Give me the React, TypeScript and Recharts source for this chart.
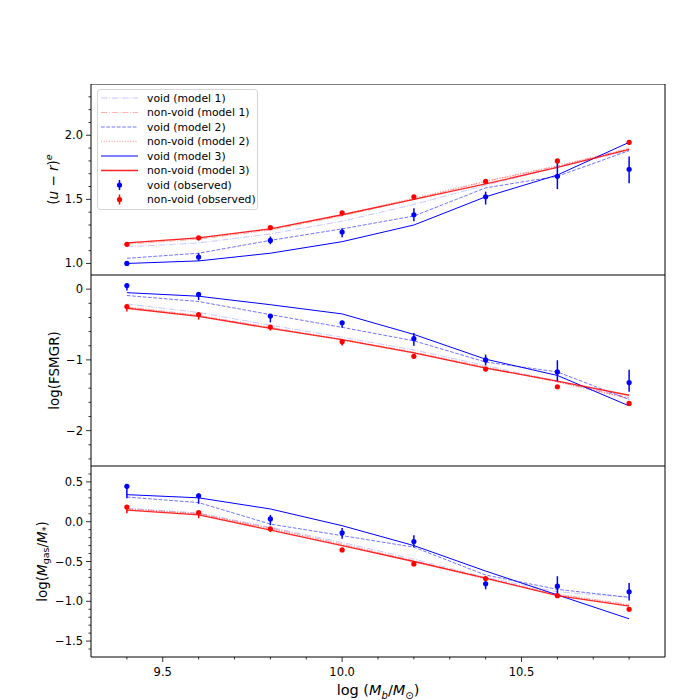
import React from "react";
import {
  ComposedChart,
  ErrorBar,
  Line,
  ReferenceArea,
  Scatter,
  XAxis,
  YAxis,
} from "recharts";

// stellar+gas mass bins, log(Mb/Msun)
const massBins = [9.4, 9.6, 9.8, 10.0, 10.2, 10.4, 10.6, 10.8];

// (u - r)^e colour
const urVoidM1 = [1.13, 1.16, 1.23, 1.33, 1.46, 1.61, 1.75, 1.88];
const urNonVoidM1 = [1.15, 1.19, 1.26, 1.37, 1.5, 1.64, 1.76, 1.9];
const urVoidM2 = [1.04, 1.08, 1.18, 1.27, 1.37, 1.59, 1.68, 1.88];
const urNonVoidM2 = [1.16, 1.2, 1.27, 1.38, 1.51, 1.64, 1.76, 1.89];
const urVoidM3 = [1.0, 1.02, 1.08, 1.17, 1.3, 1.52, 1.69, 1.945];
const urNonVoidM3 = [1.16, 1.2, 1.27, 1.38, 1.5, 1.62, 1.75, 1.89];
const urVoidObs = [1.0, 1.05, 1.18, 1.245, 1.38, 1.52, 1.68, 1.735];
const urNonVoidObs = [1.15, 1.2, 1.28, 1.395, 1.52, 1.64, 1.8, 1.945];
const urVoidErr = [[0.02, 0.01], [0.03, 0.03], [0.03, 0.03], [0.04, 0.03], [0.05, 0.05], [0.06, 0.04], [0.1, 0.13], [0.11, 0.1]];
const urNonVoidErr = [[0.02, 0.01], [0.02, 0.01], [0.02, 0.01], [0.02, 0.01], [0.02, 0.01], [0.02, 0.01], [0.02, 0.01], [0.02, 0.01]];

// log(FSMGR)
const fsVoidM1 = [-0.21, -0.33, -0.51, -0.68, -0.86, -1.08, -1.3, -1.53];
const fsNonVoidM1 = [-0.25, -0.37, -0.54, -0.71, -0.89, -1.1, -1.31, -1.54];
const fsVoidM2 = [-0.09, -0.175, -0.36, -0.54, -0.73, -1.03, -1.17, -1.56];
const fsNonVoidM2 = [-0.26, -0.38, -0.55, -0.72, -0.9, -1.11, -1.31, -1.55];
const fsVoidM3 = [-0.05, -0.1, -0.22, -0.35, -0.64, -0.99, -1.22, -1.65];
const fsNonVoidM3 = [-0.27, -0.385, -0.555, -0.715, -0.9, -1.115, -1.3, -1.5];
const fsVoidObs = [0.05, -0.075, -0.38, -0.475, -0.7, -1.0, -1.17, -1.32];
const fsNonVoidObs = [-0.245, -0.36, -0.535, -0.745, -0.95, -1.13, -1.38, -1.615];
const fsVoidErr = [[0.07, 0.02], [0.08, 0.02], [0.09, 0.02], [0.07, 0.03], [0.1, 0.08], [0.075, 0.075], [0.13, 0.165], [0.13, 0.18]];
const fsNonVoidErr = [[0.07, 0.02], [0.07, 0.02], [0.05, 0.02], [0.05, 0.02], [0.03, 0.02], [0.03, 0.02], [0.03, 0.02], [0.03, 0.02]];

// log(Mgas/M*)
const gasVoidM1 = [0.17, 0.11, -0.07, -0.26, -0.47, -0.7, -0.88, -0.95];
const gasNonVoidM1 = [0.16, 0.1, -0.08, -0.28, -0.49, -0.71, -0.91, -1.04];
const gasVoidM2 = [0.31, 0.24, -0.03, -0.175, -0.32, -0.67, -0.85, -0.95];
const gasNonVoidM2 = [0.16, 0.1, -0.09, -0.29, -0.5, -0.72, -0.92, -1.05];
const gasVoidM3 = [0.34, 0.3, 0.16, -0.05, -0.3, -0.62, -0.92, -1.22];
const gasNonVoidM3 = [0.145, 0.085, -0.105, -0.3, -0.5, -0.71, -0.93, -1.06];
const gasVoidObs = [0.445, 0.325, 0.035, -0.14, -0.25, -0.78, -0.81, -0.88];
const gasNonVoidObs = [0.185, 0.115, -0.09, -0.355, -0.53, -0.715, -0.93, -1.1];
const gasVoidErr = [[0.15, 0.02], [0.1, 0.03], [0.08, 0.05], [0.075, 0.06], [0.07, 0.08], [0.07, 0.07], [0.1, 0.125], [0.11, 0.11]];
const gasNonVoidErr = [[0.08, 0.02], [0.07, 0.02], [0.04, 0.02], [0.02, 0.02], [0.02, 0.02], [0.02, 0.02], [0.02, 0.02], [0.02, 0.02]];

// tick labels
const xTicks = [9.4, 9.5, 9.6, 9.7, 9.8, 9.9, 10.0, 10.1, 10.2, 10.3, 10.4, 10.5, 10.6, 10.7, 10.8];
const xMajor = [9.5, 10.0, 10.5];
const urTicks = [1.0, 1.1, 1.2, 1.3, 1.4, 1.5, 1.6, 1.7, 1.8, 1.9, 2.0, 2.1, 2.2, 2.3];
const urMajor = [1.0, 1.5, 2.0];
const fsTicks = [0, -0.2, -0.4, -0.6, -0.8, -1.0, -1.2, -1.4, -1.6, -1.8, -2.0, -2.2, -2.4];
const fsMajor = [0, -1, -2];
const gasTicks = [0.6, 0.5, 0.4, 0.3, 0.2, 0.1, 0, -0.1, -0.2, -0.3, -0.4, -0.5, -0.6, -0.7, -0.8, -0.9, -1.0, -1.1, -1.2, -1.3, -1.4, -1.5, -1.6];
const gasMajor = [0.5, 0, -0.5, -1.0, -1.5];

const FONT = "'DejaVu Sans', sans-serif";
const PLOT_LEFT = 91;
const PLOT_RIGHT = 665;
const PANEL_H = 191;
const X_DOMAIN = [9.3, 10.9];
const BLUE = "#0000ff";
const RED = "#ff0000";

const models = [
  { key: "vM1", name: "void (model 1)", color: BLUE, dash: "6.4 1.6 1 1.6", opacity: 0.22, width: 1 },
  { key: "nvM1", name: "non-void (model 1)", color: RED, dash: "6.4 1.6 1 1.6", opacity: 0.3, width: 1 },
  { key: "vM2", name: "void (model 2)", color: BLUE, dash: "3.7 1.6", opacity: 0.55, width: 1 },
  { key: "nvM2", name: "non-void (model 2)", color: RED, dash: "1 1.65", opacity: 0.35, width: 1.3 },
  { key: "vM3", name: "void (model 3)", color: BLUE, dash: undefined, opacity: 1, width: 1 },
  { key: "nvM3", name: "non-void (model 3)", color: RED, dash: undefined, opacity: 0.85, width: 1.3 },
];

const minus = (v: number) => (v < -1e-9 ? "\u2212" : "");
const fmt = (v: number) => minus(v) + Math.abs(v).toFixed(1);
const fmtInt = (v: number) => minus(v) + Math.abs(Math.round(v));
const isMajor = (majors: number[], v: number) => majors.some((m) => Math.abs(m - v) < 1e-6);

const makeRows = (
  vM1: number[], nvM1: number[], vM2: number[], nvM2: number[], vM3: number[], nvM3: number[],
  vObs: number[], nvObs: number[], vErr: number[][], nvErr: number[][]
) =>
  massBins.map((x, i) => ({
    x,
    vM1: vM1[i], nvM1: nvM1[i], vM2: vM2[i], nvM2: nvM2[i], vM3: vM3[i], nvM3: nvM3[i],
    vObs: vObs[i], nvObs: nvObs[i], vErr: vErr[i], nvErr: nvErr[i],
  }));

const Dot = (color: string) => (p: any) => <circle cx={p.cx} cy={p.cy} r={2.6} fill={color} />;

interface PanelProps {
  top: number;
  rows: any[];
  domain: number[];
  ticks: number[];
  majors: number[];
  format: (v: number) => string;
  label: React.ReactNode;
  labelX: number;
  showX?: boolean;
}

const Panel: React.FC<PanelProps> = ({ top, rows, domain, ticks, majors, format, label, labelX, showX }) => {
  const xHeight = showX ? 50 : 0;
  return (
    <div style={{ position: "absolute", left: 0, top }}>
      <ComposedChart width={700} height={PANEL_H + xHeight} data={rows} margin={{ top: 0, right: 700 - PLOT_RIGHT, bottom: 0, left: 0 }}>
        <XAxis
          dataKey="x"
          type="number"
          domain={X_DOMAIN}
          allowDataOverflow
          ticks={showX ? xTicks : []}
          interval={0}
          height={xHeight}
          axisLine={false}
          tickLine={false}
          tick={
            showX
              ? (p: any) => {
                  const major = isMajor(xMajor, p.payload.value);
                  return (
                    <g>
                      <line x1={p.x} x2={p.x} y1={PANEL_H} y2={PANEL_H + (major ? 5 : 2.5)} stroke="#000" strokeWidth={0.8} />
                      {major && (
                        <text x={p.x} y={PANEL_H + 19} textAnchor="middle" fontSize={11.5} fontFamily={FONT} fill="#000">
                          {p.payload.value.toFixed(1)}
                        </text>
                      )}
                    </g>
                  );
                }
              : false
          }
          label={
            showX
              ? {
                  content: () => (
                    <text x={(PLOT_LEFT + PLOT_RIGHT) / 2} y={PANEL_H + 38} textAnchor="middle" fontSize={14.5} fontFamily={FONT} fill="#000">
                      log (<tspan fontStyle="italic">M</tspan>
                      <tspan dy={3.5} fontSize={10} fontStyle="italic">b</tspan>
                      <tspan dy={-3.5}>/</tspan>
                      <tspan fontStyle="italic">M</tspan>
                      <tspan dy={3.5} fontSize={10}>{"\u2299"}</tspan>
                      <tspan dy={-3.5}>)</tspan>
                    </text>
                  ),
                }
              : undefined
          }
        />
        <YAxis
          type="number"
          domain={domain}
          allowDataOverflow
          width={PLOT_LEFT}
          ticks={ticks}
          interval={0}
          axisLine={false}
          tickLine={false}
          tick={(p: any) => {
            const major = isMajor(majors, p.payload.value);
            return (
              <g>
                <line x1={PLOT_LEFT - (major ? 5 : 2.5)} x2={PLOT_LEFT} y1={p.y} y2={p.y} stroke="#000" strokeWidth={0.8} />
                {major && (
                  <text x={PLOT_LEFT - 8} y={p.y} dy={4} textAnchor="end" fontSize={11.5} fontFamily={FONT} fill="#000">
                    {format(p.payload.value)}
                  </text>
                )}
              </g>
            );
          }}
          label={{
            content: () => (
              <text
                x={labelX}
                y={PANEL_H / 2}
                transform={`rotate(-90 ${labelX} ${PANEL_H / 2})`}
                textAnchor="middle"
                dominantBaseline="central"
                fontSize={13.5}
                fontFamily={FONT}
                fill="#000"
              >
                {label}
              </text>
            ),
          }}
        />
        <ReferenceArea x1={X_DOMAIN[0]} x2={X_DOMAIN[1]} y1={domain[0]} y2={domain[1]} fill="none" stroke="#000" strokeWidth={1} fillOpacity={0} />
        {models.map((m) => (
          <Line
            key={m.key}
            type="linear"
            dataKey={m.key}
            stroke={m.color}
            strokeOpacity={m.opacity}
            strokeWidth={m.width}
            strokeDasharray={m.dash}
            dot={false}
            activeDot={false}
            isAnimationActive={false}
          />
        ))}
        <Scatter dataKey="vObs" fill={BLUE} shape={Dot(BLUE)} isAnimationActive={false}>
          <ErrorBar dataKey="vErr" direction="y" width={0} stroke={BLUE} strokeWidth={1.5} isAnimationActive={false} />
        </Scatter>
        <Scatter dataKey="nvObs" fill={RED} shape={Dot(RED)} isAnimationActive={false}>
          <ErrorBar dataKey="nvErr" direction="y" width={0} stroke={RED} strokeWidth={1.5} isAnimationActive={false} />
        </Scatter>
      </ComposedChart>
    </div>
  );
};

const LegendBox: React.FC = () => {
  const rowY = (i: number) => 9 + i * 14.5;
  const obs = [
    { name: "void (observed)", color: BLUE },
    { name: "non-void (observed)", color: RED },
  ];
  return (
    <div
      style={{
        position: "absolute",
        left: 97,
        top: 89,
        width: 161,
        height: 121,
        border: "1px solid #d6d6d6",
        borderRadius: 3,
        background: "rgba(255,255,255,0.8)",
        boxSizing: "border-box",
      }}
    >
      <svg width={161} height={121} style={{ position: "absolute", left: -1, top: -1 }}>
        {models.map((m, i) => (
          <g key={m.key}>
            <line x1={4} x2={41} y1={rowY(i)} y2={rowY(i)} stroke={m.color} strokeOpacity={m.opacity} strokeWidth={m.width} strokeDasharray={m.dash} />
            <text x={50} y={rowY(i)} dy={3.8} fontSize={10.8} fontFamily={FONT} fill="#000">
              {m.name}
            </text>
          </g>
        ))}
        {obs.map((o, j) => {
          const y = rowY(6 + j);
          return (
            <g key={o.name}>
              <line x1={22.5} x2={22.5} y1={y - 5} y2={y + 5} stroke={o.color} strokeWidth={1.5} />
              <circle cx={22.5} cy={y} r={2.6} fill={o.color} />
              <text x={50} y={y} dy={3.8} fontSize={10.8} fontFamily={FONT} fill="#000">
                {o.name}
              </text>
            </g>
          );
        })}
      </svg>
    </div>
  );
};

const urRows = makeRows(urVoidM1, urNonVoidM1, urVoidM2, urNonVoidM2, urVoidM3, urNonVoidM3, urVoidObs, urNonVoidObs, urVoidErr, urNonVoidErr);
const fsRows = makeRows(fsVoidM1, fsNonVoidM1, fsVoidM2, fsNonVoidM2, fsVoidM3, fsNonVoidM3, fsVoidObs, fsNonVoidObs, fsVoidErr, fsNonVoidErr);
const gasRows = makeRows(gasVoidM1, gasNonVoidM1, gasVoidM2, gasNonVoidM2, gasVoidM3, gasNonVoidM3, gasVoidObs, gasNonVoidObs, gasVoidErr, gasNonVoidErr);

export default function App() {
  return (
    <div style={{ position: "absolute", left: 0, top: 0, width: 700, height: 700, background: "#fff", overflow: "hidden" }}>
      <Panel
        top={84}
        rows={urRows}
        domain={[0.91, 2.4]}
        ticks={urTicks}
        majors={urMajor}
        format={fmt}
        labelX={53}
        label={
          <>
            (<tspan fontStyle="italic">u</tspan> {"\u2212"} <tspan fontStyle="italic">r</tspan>)
            <tspan dy={-5} fontSize={9.5} fontStyle="italic">e</tspan>
          </>
        }
      />
      <Panel
        top={275}
        rows={fsRows}
        domain={[-2.5, 0.2]}
        ticks={fsTicks}
        majors={fsMajor}
        format={fmtInt}
        labelX={54}
        label={<>log(FSMGR)</>}
      />
      <Panel
        top={466}
        rows={gasRows}
        domain={[-1.7, 0.7]}
        ticks={gasTicks}
        majors={gasMajor}
        format={fmt}
        labelX={42}
        showX
        label={
          <>
            log(<tspan fontStyle="italic">M</tspan>
            <tspan dy={3} fontSize={9.5}>gas</tspan>
            <tspan dy={-3}>/</tspan>
            <tspan fontStyle="italic">M</tspan>
            <tspan dy={3} fontSize={9.5}>*</tspan>
            <tspan dy={-3}>)</tspan>
          </>
        }
      />
      <LegendBox />
    </div>
  );
}
